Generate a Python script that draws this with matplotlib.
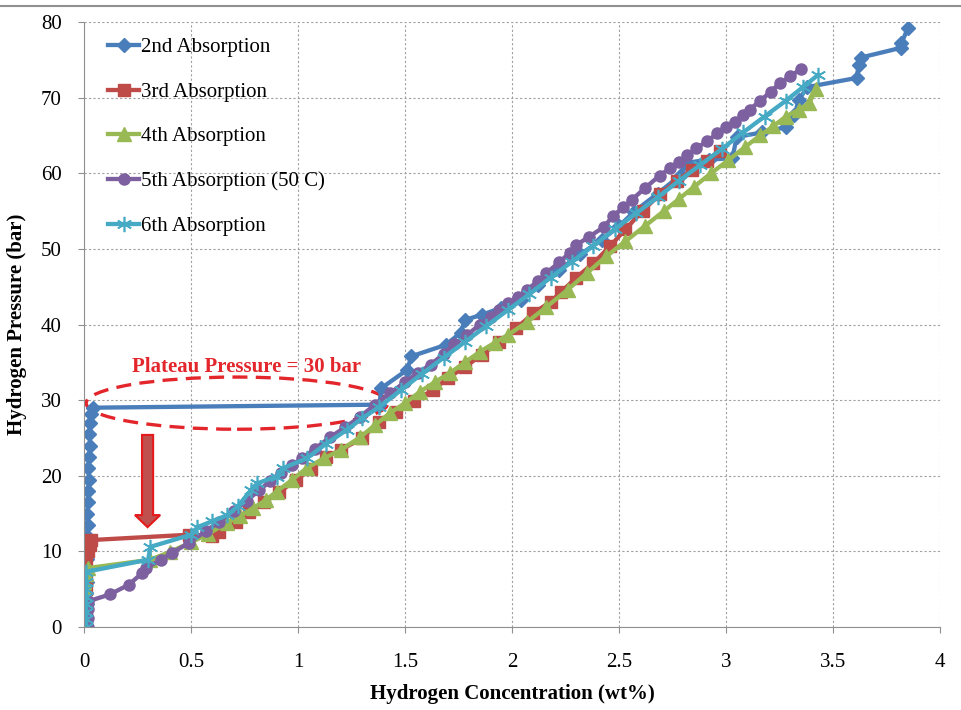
import matplotlib
matplotlib.use("Agg")
import matplotlib.pyplot as plt
from matplotlib.patches import Ellipse, FancyArrow
from matplotlib.lines import Line2D

plt.rcParams['font.family'] = ['Liberation Serif', 'DejaVu Serif']

# 2nd Absorption
x2 = [0.01, 0.01, 0.015, 0.01, 0.015, 0.01, 0.015, 0.01, 0.015, 0.02, 0.015, 0.02, 0.02, 0.025,
      0.02, 0.025, 0.03, 0.025, 0.03, 0.035, 0.04,
      1.38, 1.39, 1.51, 1.53, 1.69, 1.76, 1.78, 1.86, 1.95, 2.04, 2.12, 2.22, 2.32, 2.42, 2.50,
      2.57, 2.68, 2.79, 2.82, 2.92, 3.03, 3.05, 3.17, 3.28, 3.32, 3.34, 3.38, 3.61, 3.62, 3.63,
      3.82, 3.82, 3.85]
y2 = [0.3, 1.5, 3.0, 4.5, 6.0, 7.5, 9.0, 10.5, 12.0, 13.5, 15.0, 16.5, 18.0, 19.5,
      21.0, 22.5, 24.0, 25.5, 27.0, 28.2, 29.0,
      29.4, 31.6, 34.0, 35.8, 37.3, 38.9, 40.6, 41.3, 42.2, 43.3, 45.2, 47.2, 49.3, 51.2, 53.0,
      54.9, 57.3, 59.8, 61.4, 61.8, 62.0, 64.8, 65.4, 66.1, 67.7, 69.7, 71.4, 72.6, 74.3, 75.3,
      76.6, 77.2, 79.2]

# 3rd Absorption
x3 = [0.0, 0.01, 0.0, 0.01, 0.0, 0.01, 0.0, 0.01, 0.0, 0.01, 0.02, 0.03, 0.035,
      0.49, 0.60, 0.63, 0.71, 0.77, 0.84, 0.91, 0.99, 1.06, 1.13, 1.20, 1.30, 1.38, 1.46,
      1.54, 1.63, 1.70, 1.78, 1.86, 1.94, 2.02, 2.10, 2.18, 2.23, 2.30, 2.38, 2.46, 2.53,
      2.61, 2.69, 2.77, 2.84, 2.91, 2.97]
y3 = [0.2, 1.0, 2.0, 3.0, 4.0, 5.0, 6.0, 7.0, 8.0, 9.0, 10.0, 10.8, 11.5,
      12.2, 12.0, 12.6, 13.9, 15.2, 16.5, 17.8, 19.4, 20.9, 22.5, 23.4, 25.0, 27.1, 28.4,
      29.9, 31.3, 32.9, 34.4, 36.0, 37.7, 39.5, 41.5, 43.0, 44.3, 46.2, 48.1, 50.4, 52.6,
      55.0, 57.2, 59.0, 60.4, 61.6, 63.0]

# 4th Absorption
x4 = [0.0, 0.0, 0.0, 0.0, 0.0, 0.0, 0.0, 0.01, 0.02,
      0.31, 0.40, 0.50, 0.58, 0.67, 0.73, 0.79, 0.85, 0.90, 0.97, 1.04, 1.12, 1.20, 1.29,
      1.36, 1.43, 1.50, 1.57, 1.64, 1.71, 1.78, 1.85, 1.92, 1.98, 2.07, 2.16, 2.26, 2.35,
      2.44, 2.53, 2.62, 2.71, 2.78, 2.85, 2.93, 3.01, 3.09, 3.16, 3.22, 3.28, 3.34, 3.39, 3.42]
y4 = [0.0, 1.0, 2.0, 3.0, 4.0, 5.0, 6.0, 7.0, 7.8,
      8.9, 9.9, 11.2, 12.3, 13.8, 14.7, 15.7, 16.8, 17.9, 19.4, 21.0, 22.3, 23.4, 25.1,
      26.7, 28.3, 29.6, 31.1, 32.4, 33.6, 35.0, 36.4, 37.6, 38.6, 40.3, 42.3, 44.6, 46.8,
      49.0, 51.0, 53.0, 55.0, 56.6, 58.2, 60.0, 61.7, 63.5, 65.0, 66.2, 67.5, 68.4, 69.3, 71.2]

# 5th Absorption (50 C)
x5 = [0.02, 0.02, 0.02, 0.02, 0.12, 0.21, 0.27, 0.29, 0.36, 0.41, 0.49, 0.57, 0.63, 0.70,
      0.76, 0.82, 0.87, 0.92, 0.97, 1.02, 1.08, 1.15, 1.22, 1.29, 1.36, 1.43, 1.50, 1.56,
      1.62, 1.68, 1.73, 1.79, 1.85, 1.90, 1.94, 1.98, 2.03, 2.07, 2.12, 2.16, 2.22, 2.27,
      2.30, 2.36, 2.43, 2.47, 2.52, 2.56, 2.62, 2.69, 2.74, 2.78, 2.82, 2.86, 2.91, 2.96,
      3.00, 3.04, 3.08, 3.11, 3.16, 3.21, 3.25, 3.30, 3.35]
y5 = [0.0, 1.2, 2.4, 3.4, 4.3, 5.6, 7.1, 7.8, 8.9, 9.8, 11.1, 12.7, 13.9, 15.3,
      16.7, 18.1, 19.3, 20.4, 21.4, 22.3, 23.6, 25.1, 26.4, 27.8, 29.4, 30.9, 32.4, 33.6,
      34.7, 36.1, 37.4, 38.6, 40.0, 41.0, 41.9, 42.8, 43.7, 44.6, 45.7, 46.8, 48.2, 49.5,
      50.5, 51.6, 52.9, 54.3, 55.5, 56.5, 58.0, 59.7, 60.7, 61.5, 62.4, 63.3, 64.2, 65.3,
      66.1, 66.8, 67.7, 68.4, 69.6, 70.8, 71.9, 72.8, 73.8]

# 6th Absorption
x6 = [0.01, 0.01, 0.01, 0.01, 0.01, 0.01, 0.01, 0.01,
      0.30, 0.31, 0.50, 0.53, 0.60, 0.67, 0.72, 0.78, 0.81, 0.90, 0.93, 1.04, 1.13, 1.23,
      1.30, 1.38, 1.48, 1.58, 1.68, 1.78, 1.88, 1.98, 2.08, 2.18, 2.28, 2.38, 2.48, 2.58,
      2.68, 2.78, 2.88, 2.98, 3.08, 3.18, 3.28, 3.36, 3.43]
y6 = [0.0, 1.0, 2.0, 3.0, 4.0, 5.0, 6.0, 7.3,
      8.9, 10.6, 12.2, 13.2, 14.0, 14.8, 16.0, 18.1, 19.0, 19.9, 21.0, 22.3, 24.2, 26.1,
      27.6, 29.1, 31.3, 33.5, 35.6, 37.7, 39.8, 41.9, 44.0, 46.2, 48.3, 50.4, 52.6, 54.7,
      56.8, 59.0, 61.1, 63.2, 65.4, 67.5, 69.6, 71.4, 73.0]

xticks = [0, 0.5, 1, 1.5, 2, 2.5, 3, 3.5, 4]
xtick_labels = ['0', '0.5', '1', '1.5', '2', '2.5', '3', '3.5', '4']
yticks = [0, 10, 20, 30, 40, 50, 60, 70, 80]

fig = plt.figure(figsize=(9.61, 7.10), dpi=100)
ax = fig.add_axes([84 / 961, 83 / 710, 856 / 961, 605 / 710])

lw = 3.1
ax.plot(x2, y2, color='#4A7EBB', lw=lw, marker='D', ms=7, label='2nd Absorption')
ax.plot(x3, y3, color='#BE4B48', lw=lw, marker='s', ms=8.5, label='3rd Absorption')
ax.plot(x4, y4, color='#98B954', lw=lw, marker='^', ms=9.5, label='4th Absorption')
ax.plot(x5, y5, color='#7D60A0', lw=lw, marker='o', ms=8, label='5th Absorption (50 C)')
ax.plot(x6, y6, color='#46AAC5', lw=lw, marker=(6, 2, 0), ms=11, mew=1.2,
        label='6th Absorption')

# plateau annotation
ax.add_patch(Ellipse((0.715, 29.6), 1.41, 6.9, fill=False, edgecolor='#E3262B',
                     lw=2.4, linestyle=(0, (4.5, 2.5))))
ax.text(0.76, 34.4, 'Plateau Pressure = 30 bar', color='#E3262B', fontsize=15,
        fontweight='bold', ha='center', va='center')
ax.add_patch(FancyArrow(0.297, 25.4, 0, -12.2, width=0.052, head_width=0.118,
                        head_length=1.6, length_includes_head=True,
                        facecolor='#C0504D', edgecolor='#E41A1C', lw=1.5))

ax.set_xlim(0, 4)
ax.set_ylim(0, 80)
ax.set_xticks(xticks)
ax.set_xticklabels(xtick_labels)
ax.set_yticks(yticks)
ax.grid(True, color='#A0A0A0', linestyle=(0, (2, 2)), lw=0.8)
ax.set_axisbelow(True)
for s in ['top', 'right']:
    ax.spines[s].set_visible(False)
for s in ['left', 'bottom']:
    ax.spines[s].set_color('#909090')
ax.tick_params(axis='both', labelsize=15, color='#909090', length=4)
ax.tick_params(axis='y', pad=12)
ax.tick_params(axis='x', pad=15)

ax.set_xlabel('Hydrogen Concentration (wt%)', fontsize=15, fontweight='bold')
ax.set_ylabel('Hydrogen Pressure (bar)', fontsize=15, fontweight='bold')
ax.xaxis.set_label_coords(0.5, -0.095)
ax.yaxis.set_label_coords(-0.067, 0.5)

ax.legend(loc='upper left', bbox_to_anchor=(0.006, 1.005), frameon=False, fontsize=15,
          handlelength=1.5, handletextpad=0.1, labelspacing=1.2)

fig.add_artist(Line2D([0, 1], [1 - 6 / 710, 1 - 6 / 710], color='#909090', lw=1.5))

fig.savefig('out.png', dpi=100)
